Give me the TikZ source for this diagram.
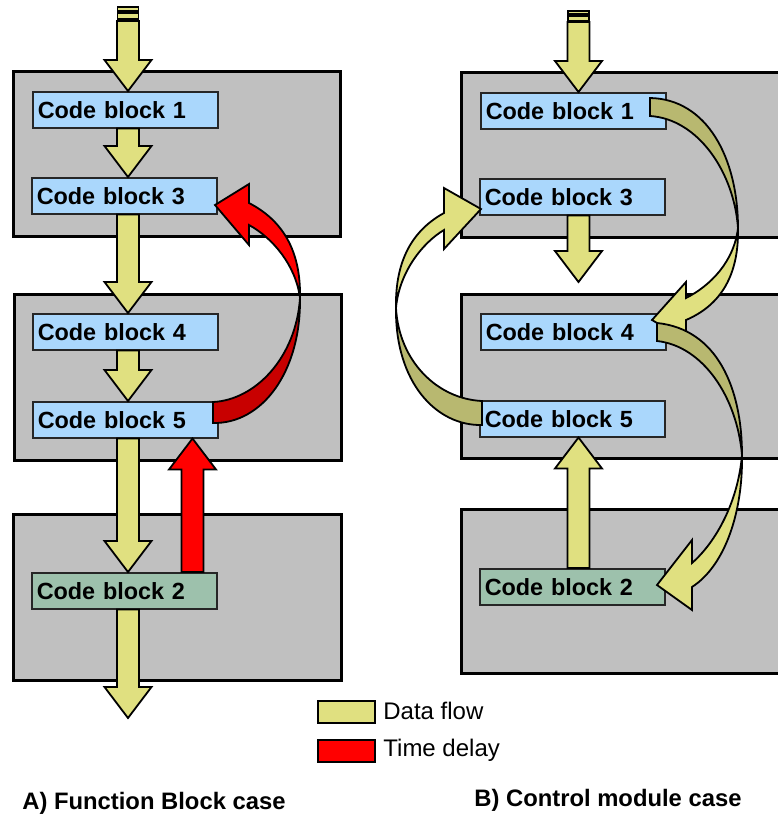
\documentclass[tikz,border=0pt]{standalone}
\usepackage{fontspec}
\setmainfont{Liberation Sans}
\usetikzlibrary{calc}
\definecolor{panelgray}{RGB}{192,192,192}
\definecolor{blockblue}{RGB}{170,215,252}
\definecolor{blockgreen}{RGB}{157,193,172}
\definecolor{flowyellow}{RGB}{224,224,128}
\definecolor{flowolive}{RGB}{184,184,112}
\definecolor{delayred}{RGB}{255,0,0}
\definecolor{delaydark}{RGB}{200,0,0}
\newcommand\blkarrow[3][]{%
  \draw[flowarrow,#1] let \p1=(#2), \p2=(#3), \p3=($(#3)!15.5pt!(#2)$) in
    (\x1-5.5pt,\y1) -- (\x1-5.5pt,\y3) -- (\x1-11.75pt,\y3) -- (\x1,\y2) --
    (\x1+11.75pt,\y3) -- (\x1+5.5pt,\y3) -- (\x1+5.5pt,\y1) -- cycle;}
\begin{document}
\begin{tikzpicture}[x=0.5pt,y=-0.5pt,
  panel/.style={draw=black,line width=1.5pt,fill=panelgray},
  codeblock/.style={draw=black!85,line width=0.75pt,fill=blockblue,anchor=north west,
    minimum width=92.5pt,minimum height=18pt,inner xsep=2.5pt,inner ysep=0pt,
    text width=87.5pt,align=left,font=\bfseries\fontsize{11.7}{14}\selectfont},
  greenblock/.style={codeblock,fill=blockgreen},
  flowarrow/.style={draw=black,line width=0.9pt,line join=miter,fill=flowyellow},
  darkflow/.style={draw=black,line width=0.9pt,fill=flowolive},
  delayarrow/.style={draw=black,line width=0.9pt,line join=miter,fill=delayred},
  darkdelay/.style={draw=black,line width=0.9pt,fill=delaydark},
  legendbox/.style={draw=black,line width=0.9pt,minimum width=28.5pt,minimum height=11pt,anchor=north west,inner sep=0pt},
  legendtext/.style={anchor=west,inner sep=0pt,font=\fontsize{12}{14}\selectfont},
  caption/.style={anchor=west,inner sep=0pt,font=\bfseries\fontsize{11.9}{14}\selectfont}]
\clip (0,0) rectangle (778,816);
\fill[white] (0,0) rectangle (778,816);

% panels
\draw[panel] (13,71) rectangle (340,236);
\draw[panel] (14,294) rectangle (341,460);
\draw[panel] (13,514) rectangle (341,680);
\draw[panel] (461,72) rectangle (800,237);
\draw[panel] (461,294) rectangle (800,458);
\draw[panel] (461,509) rectangle (800,673);

% code blocks, left
\node[codeblock] (L1) at (32,91) {Code block 1};
\node[codeblock] (L3) at (31,177) {Code block 3};
\node[codeblock] (L4) at (32,313) {Code block 4};
\node[codeblock] (L5) at (32,401) {Code block 5};
\node[greenblock] (L2) at (31,572) {Code block 2};
% code blocks, right
\node[codeblock] (R1) at (480,92) {Code block 1};
\node[codeblock] (R3) at (479,178) {Code block 3};
\node[codeblock] (R4) at (480,313) {Code block 4};
\node[codeblock] (R5) at (479,400) {Code block 5};
\node[greenblock] (R2) at (479,568) {Code block 2};

% columns and free ends
\coordinate (cL) at (128,0);
\coordinate (cD) at (192.5,0);
\coordinate (cR) at (578.5,0);
\coordinate (topL) at (128,21);
\coordinate (botL) at (128,718);
\coordinate (topR) at (578.5,22);
\coordinate (r3tip) at (578.5,282);

% top bars
\draw[flowarrow] (117.5,7) rectangle (138.5,11);
\draw[flowarrow] (117.5,13) rectangle (138.5,19);
\draw[flowarrow] (568,11) rectangle (589,14);
\draw[flowarrow] (568,16) rectangle (589,21);

% straight arrows, left
\blkarrow{topL}{L1.north -| cL}
\blkarrow{L1.south -| cL}{L3.north -| cL}
\blkarrow{L3.south -| cL}{L4.north -| cL}
\blkarrow{L4.south -| cL}{L5.north -| cL}
\blkarrow{L5.south -| cL}{L2.north -| cL}
\blkarrow{L2.south -| cL}{botL}
\blkarrow[delayarrow]{L2.north -| cD}{L5.south -| cD}
% straight arrows, right
\blkarrow{topR}{R1.north -| cR}
\blkarrow{R3.south -| cR}{r3tip}
\blkarrow{R2.north -| cR}{R5.south -| cR}

% curved red arrow (block 5 -> block 3)
\draw[darkdelay] (213,402) .. controls (255,400) and (296,358) .. (300,298)
  .. controls (301,372) and (262,424) .. (213,423) -- cycle;
\draw[delayarrow] (300,298) .. controls (301,250) and (282,220) .. (249,203)
  -- (249,184) -- (215,205) -- (249,245) -- (249,225)
  .. controls (273,238) and (296,266) .. (300,298) -- cycle;

% curved arrow left (block 5 -> block 3)
\draw[darkflow] (482,401) .. controls (438,399) and (399,362) .. (396,308)
  .. controls (395,382) and (436,426) .. (482,425) -- cycle;
\draw[flowarrow] (396,308) .. controls (395,260) and (413,230) .. (444,213)
  -- (444,188) -- (481,209) -- (444,249) -- (444,230)
  .. controls (422,243) and (399,273) .. (396,308) -- cycle;

% curved arrow right (block 1 -> block 4)
\draw[darkflow] (650,98) .. controls (707,99) and (738,158) .. (738,228)
  .. controls (734,172) and (698,119) .. (650,116) -- cycle;
\draw[flowarrow] (738,228) .. controls (739,275) and (721,305) .. (686,320)
  -- (686,340) -- (652,320) -- (686,282) -- (686,298)
  .. controls (710,286) and (734,262) .. (738,228) -- cycle;

% curved arrow right (block 4 -> block 2)
\draw[darkflow] (657,323) .. controls (717,329) and (742,388) .. (742,455)
  .. controls (737,397) and (703,346) .. (657,341) -- cycle;
\draw[flowarrow] (742,455) .. controls (743,510) and (726,565) .. (692,587)
  -- (692,610) -- (657,585) -- (692,540) -- (692,563)
  .. controls (716,542) and (738,502) .. (742,455) -- cycle;

% legend
\node[legendbox,fill=flowyellow] (legD) at (317,700) {};
\node[legendtext] (legDt) at (383,711) {Data flow};
\node[legendbox,fill=delayred] (legT) at (317,739) {};
\node[legendtext] (legTt) at (383,750) {Time delay};

% captions
\node[caption] (capA) at (22,803) {A) Function Block case};
\node[caption] (capB) at (474,800) {B) Control module case};
\end{tikzpicture}
\end{document}
